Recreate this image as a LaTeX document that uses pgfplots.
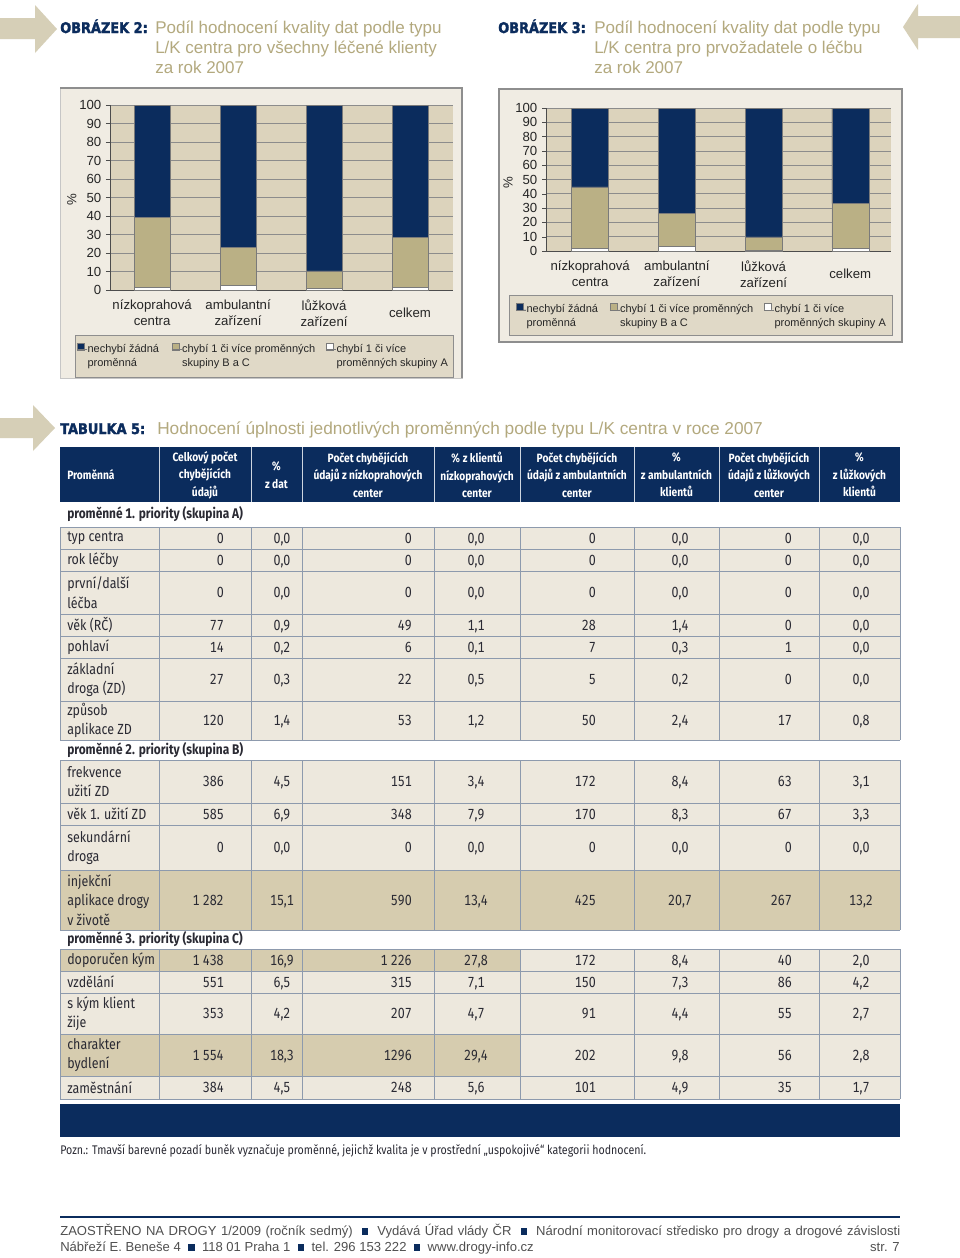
\documentclass[border=0pt]{standalone}
\usepackage{pgfplots}
\pgfplotsset{compat=1.18}
\usepackage{fontspec}
\setmainfont{Liberation Sans}
\newfontfamily\cond[FakeStretch=0.85, Numbers=Monospaced]{Fira Sans}
\newfontfamily\heavy[FakeStretch=0.88, FakeBold=2]{DejaVu Sans}
\definecolor{navy}{HTML}{0B2C5D}
\definecolor{titlec}{HTML}{B3A97E}
\definecolor{arrowc}{HTML}{D6CFB7}
\definecolor{barbeige}{HTML}{BAB085}
\definecolor{plotbg}{HTML}{DCD3BC}
\definecolor{outerbg}{HTML}{F0ECE3}
\definecolor{legbg}{HTML}{E0D9C7}
\definecolor{boxline}{HTML}{8E8E8E}
\definecolor{gridg}{HTML}{8C8C8C}
\definecolor{cellL}{HTML}{EDE8DD}
\definecolor{cellD}{HTML}{D6CCAF}
\definecolor{tgrid}{HTML}{8D9AAD}
\definecolor{ttext}{HTML}{2A2A33}
\definecolor{footc}{HTML}{505050}
\definecolor{barline}{HTML}{7A7A7A}
\pgfplotsset{sqleg/.style={legend image code/.code={\draw[##1, line width=0.4pt] (0pt,-0.6pt) rectangle (5.5pt,4.9pt); \path (0pt,0pt) -- (7.5pt,0pt);}}}
\pgfplotsset{chartbase/.style={
  scale only axis, ybar stacked, ymin=0, ymax=100,
  ytick={0,10,...,100}, xtick={0,1,2,3},
  xticklabels={{nízkoprahová\\centra},{ambulantní\\zařízení},{lůžková\\zařízení},{celkem}},
  xticklabel style={align=center, anchor=center, yshift=-14.3pt, font=\fontsize{9.9}{12}\selectfont, text=black!85},
  yticklabel style={font=\fontsize{9.9}{12}\selectfont, text=black!85},
  /pgf/number format/assume math mode=true,
  axis background/.style={fill=plotbg},
  ymajorgrids, grid style={draw=gridg, line width=0.6pt},
  axis x line*=bottom, axis y line*=left,
  axis line style={draw=gray!60!black, line width=0.7pt, -},
  xtick style={draw=none}, ytick style={draw=gray!60!black},
  tick align=outside, major tick length=3pt,
  ylabel={\%}, ylabel style={font=\fontsize{9.9}{12}\selectfont, text=black!85, anchor=center},
  legend cell align=left,
  legend style={anchor=north west, draw=none, fill=none, inner sep=0pt, outer sep=0pt,
     font=\fontsize{8.25}{10.5}\selectfont, legend columns=3, nodes={inner sep=0pt, text=black!85},
     /tikz/every even column/.append style={column sep=0pt}},
}}
\newcommand\vals[9]{%
 \node[anchor=base east] at (224,{#1+5}) {#2};
 \node[anchor=base] at (282,{#1+5}) {#3};
 \node[anchor=base east] at (412,{#1+5}) {#4};
 \node[anchor=base] at (476,{#1+5}) {#5};
 \node[anchor=base east] at (596,{#1+5}) {#6};
 \node[anchor=base] at (680,{#1+5}) {#7};
 \node[anchor=base east] at (792,{#1+5}) {#8};
 \node[anchor=base] at (861,{#1+5}) {#9};}
\newcommand\nm[2]{\node[anchor=west, align=left] at (67,#1) {#2};}
\newcommand\sq{\textcolor{navy}{\rule[0.3pt]{5pt}{5pt}}}
\begin{document}
\begin{tikzpicture}
\begin{scope}[x=0.75pt,y=-0.75pt]
\useasboundingbox (0,0) rectangle (960,1258);
\fill[white] (0,0) rectangle (960,1258);
% arrows
\fill[arrowc] (0,18) -- (35,18) -- (35,5) -- (57,29) -- (35,53) -- (35,39) -- (0,39) -- cycle;
\fill[arrowc] (960,16) -- (918,16) -- (918,4) -- (903,27) -- (918,50) -- (918,38) -- (960,38) -- cycle;
\fill[arrowc] (0,418) -- (33,418) -- (33,405) -- (55,428) -- (33,451) -- (33,438) -- (0,438) -- cycle;
% titles
\node[anchor=base west, inner sep=0pt, font=\heavy\bfseries\fontsize{11}{13}\selectfont, text=navy] at (60,33) {OBRÁZEK 2:};
\begin{scope}[every node/.style={anchor=base west, inner sep=0pt, font=\fontsize{12.75}{15}\selectfont, text=titlec}]
\node at (155,33) {Podíl hodnocení kvality dat podle typu};
\node at (155,53) {L/K centra pro všechny léčené klienty};
\node at (155,73) {za rok 2007};
\node at (594,33) {Podíl hodnocení kvality dat podle typu};
\node at (594,53) {L/K centra pro prvožadatele o léčbu};
\node at (594,73) {za rok 2007};
\node[font=\fontsize{12.95}{15}\selectfont] at (157,434) {Hodnocení úplnosti jednotlivých proměnných podle typu L/K centra v roce 2007};
\end{scope}
\node[anchor=base west, inner sep=0pt, font=\heavy\bfseries\fontsize{11}{13}\selectfont, text=navy] at (498,33) {OBRÁZEK 3:};
\node[anchor=base west, inner sep=0pt, font=\heavy\bfseries\fontsize{11}{13}\selectfont, text=navy] at (60,434) {TABULKA 5:};
% chart frames
\fill[outerbg] (60,88) rectangle (462,378);
\draw[boxline!50, line width=0.6pt] (60,88) rectangle (462,378);
\draw[boxline, line width=1pt] (60,88) -- (462,88) -- (462,378);
\fill[legbg] (75,335) rectangle (453,377);
\draw[boxline, line width=0.6pt] (75,335) rectangle (453,377);
\fill[outerbg] (499,89) rectangle (902,342);
\draw[boxline, line width=0.8pt] (499,89) rectangle (902,342);
\fill[legbg] (509,295) rectangle (892,335);
\draw[boxline, line width=0.6pt] (509,295) rectangle (892,335);
% table header
\fill[navy] (60,447) rectangle (900,502);
\foreach \x in {159,251,302,434,520,634,719,819} \draw[white!80!navy, line width=0.6pt] (\x,447) -- (\x,502);
\begin{scope}[every node/.style={inner sep=0pt, align=center, text=white, font=\cond\bfseries\fontsize{9}{13.1}\selectfont}]
\node[anchor=west] at (67,475) {Proměnná};
\node at (205,475) {Celkový počet\\chybějících\\údajů};
\node at (276.5,475) {\%\\z dat};
\node at (368,475) {Počet chybějících\\údajů z nízkoprahových\\center};
\node at (477,475) {\% z klientů\\nízkoprahových\\center};
\node at (577,475) {Počet chybějících\\údajů z ambulantních\\center};
\node at (676.5,475) {\%\\z ambulantních\\klientů};
\node at (769,475) {Počet chybějících\\údajů z lůžkových\\center};
\node at (859.5,475) {\%\\z lůžkových\\klientů};
\end{scope}
% table body backgrounds
\fill[cellL] (60,527) rectangle (900,740);
\fill[cellL] (60,760) rectangle (900,930);
\fill[cellD] (60,870) rectangle (900,930);
\fill[cellL] (60,949) rectangle (900,1099);
\fill[cellD] (60,949) rectangle (520,971);
\fill[cellD] (60,1034) rectangle (520,1076);
% grid lines
\begin{scope}[tgrid, line width=0.6pt]
\foreach \x in {60,159,251,302,434,520,634,719,819,900} {
  \draw (\x,527) -- (\x,740); \draw (\x,760) -- (\x,930); \draw (\x,949) -- (\x,1099);}
\foreach \y in {527,549,571,614,636,658,701,740,760,803,825,870,930,949,971,993,1034,1076,1099}
  \draw (60,\y) -- (900,\y);
\end{scope}
\fill[navy] (60,1104) rectangle (900,1137);
% table body text
\begin{scope}[every node/.style={inner sep=0pt, text=ttext, font=\cond\fontsize{11}{14.6}\selectfont}]
\node[anchor=west, font=\cond\bfseries\fontsize{10.5}{14.6}\selectfont] at (67,514) {proměnné 1. priority (skupina A)};
\node[anchor=west, font=\cond\bfseries\fontsize{10.5}{14.6}\selectfont] at (67,750) {proměnné 2. priority (skupina B)};
\node[anchor=west, font=\cond\bfseries\fontsize{10.5}{14.6}\selectfont] at (67,939.5) {proměnné 3. priority (skupina C)};
\nm{538}{typ centra}\vals{538}{0}{0,0}{0}{0,0}{0}{0,0}{0}{0,0}
\nm{560}{rok léčby}\vals{560}{0}{0,0}{0}{0,0}{0}{0,0}{0}{0,0}
\nm{592.5}{první/další\\léčba}\vals{592.5}{0}{0,0}{0}{0,0}{0}{0,0}{0}{0,0}
\nm{625}{věk (RČ)}\vals{625}{77}{0,9}{49}{1,1}{28}{1,4}{0}{0,0}
\nm{647}{pohlaví}\vals{647}{14}{0,2}{6}{0,1}{7}{0,3}{1}{0,0}
\nm{679.5}{základní\\droga (ZD)}\vals{679.5}{27}{0,3}{22}{0,5}{5}{0,2}{0}{0,0}
\nm{720.5}{způsob\\aplikace ZD}\vals{720.5}{120}{1,4}{53}{1,2}{50}{2,4}{17}{0,8}
\nm{781.5}{frekvence\\užití ZD}\vals{781.5}{386}{4,5}{151}{3,4}{172}{8,4}{63}{3,1}
\nm{814}{věk 1. užití ZD}\vals{814}{585}{6,9}{348}{7,9}{170}{8,3}{67}{3,3}
\nm{847.5}{sekundární\\droga}\vals{847.5}{0}{0,0}{0}{0,0}{0}{0,0}{0}{0,0}
\nm{900}{injekční\\aplikace drogy\\v životě}\vals{900}{1 282}{15,1}{590}{13,4}{425}{20,7}{267}{13,2}
\nm{960}{doporučen kým}\vals{960}{1 438}{16,9}{1 226}{27,8}{172}{8,4}{40}{2,0}
\nm{982}{vzdělání}\vals{982}{551}{6,5}{315}{7,1}{150}{7,3}{86}{4,2}
\nm{1013.5}{s kým klient\\žije}\vals{1013.5}{353}{4,2}{207}{4,7}{91}{4,4}{55}{2,7}
\nm{1055}{charakter\\bydlení}\vals{1055}{1 554}{18,3}{1296}{29,4}{202}{9,8}{56}{2,8}
\nm{1087.5}{zaměstnání}\vals{1087.5}{384}{4,5}{248}{5,6}{101}{4,9}{35}{1,7}
\node[anchor=base west, font=\cond\fontsize{9.4}{11}\selectfont] at (60,1154) {Pozn.: Tmavší barevné pozadí buněk vyznačuje proměnné, jejichž kvalita je v prostřední „uspokojivé“ kategorii hodnocení.};
\end{scope}
% footer
\draw[navy, line width=1.5pt] (60,1217) -- (900,1217);
\begin{scope}[every node/.style={inner sep=0pt, anchor=base west, text=footc, font=\fontsize{9.8}{12}\selectfont}]
\node at (60,1235) {\makebox[630pt][s]{ZAOSTŘENO NA DROGY 1/2009 (ročník sedmý) \ \sq\ \ Vydává Úřad vlády ČR \ \sq\ \ Národní monitorovací středisko pro drogy a drogové závislosti}};
\node at (60,1251) {Nábřeží E. Beneše 4 \ \sq\ \ 118 01 Praha 1 \ \sq\ \ tel. 296 153 222 \ \sq\ \ www.drogy-info.cz};
\node[anchor=base east] at (900,1251) {str. 7};
\end{scope}
\end{scope}
% chart 1
\begin{axis}[chartbase,
  at={(82.5pt,-217.5pt)}, anchor=south west,
  width=257.25pt, height=138.75pt, bar width=27pt,
  xmin=-0.49, xmax=3.5,
  ylabel style={at={(rel axis cs:-0.111,0.49)}},
  legend style={at={(-0.0962,-0.286)}},
]
\addlegendimage{fill=navy, draw=barline, sqleg}
\addlegendentry{\parbox[t]{63pt}{nechybí žádná\\proměnná}}
\addlegendimage{fill=barbeige, draw=barline, sqleg}
\addlegendentry{\parbox[t]{108pt}{chybí 1 či více proměnných\\skupiny B a C}}
\addlegendimage{fill=white, draw=barline, sqleg}
\addlegendentry{\parbox[t]{86pt}{chybí 1 či více\\proměnných skupiny A}}
\addplot[fill=white, draw=barline, line width=0.4pt] coordinates {(0,1.5) (1,2.7) (2,0.9) (3,1.4)};
\addplot[fill=barbeige, draw=barline, line width=0.4pt] coordinates {(0,37.6) (1,20.5) (2,9.4) (3,26.9)};
\addplot[fill=navy, draw=barline, line width=0.4pt] coordinates {(0,60.9) (1,76.8) (2,89.7) (3,71.7)};
\end{axis}
% chart 2
\begin{axis}[chartbase,
  at={(409.5pt,-188.25pt)}, anchor=south west,
  width=258.75pt, height=107.25pt, bar width=27.75pt,
  xmin=-0.51, xmax=3.47,
  ylabel style={at={(rel axis cs:-0.110,0.48)}},
  legend style={at={(-0.087,-0.364)}},
]
\addlegendimage{fill=navy, draw=barline, sqleg}
\addlegendentry{\parbox[t]{62.25pt}{nechybí žádná\\proměnná}}
\addlegendimage{fill=barbeige, draw=barline, sqleg}
\addlegendentry{\parbox[t]{108pt}{chybí 1 či více proměnných\\skupiny B a C}}
\addlegendimage{fill=white, draw=barline, sqleg}
\addlegendentry{\parbox[t]{86pt}{chybí 1 či více\\proměnných skupiny A}}
\addplot[fill=white, draw=barline, line width=0.4pt] coordinates {(0,2.0) (1,3.0) (2,0.6) (3,2.0)};
\addplot[fill=barbeige, draw=barline, line width=0.4pt] coordinates {(0,42.8) (1,23.1) (2,9.2) (3,31.1)};
\addplot[fill=navy, draw=barline, line width=0.4pt] coordinates {(0,55.2) (1,73.9) (2,90.2) (3,66.9)};
\end{axis}
\end{tikzpicture}
\end{document}
